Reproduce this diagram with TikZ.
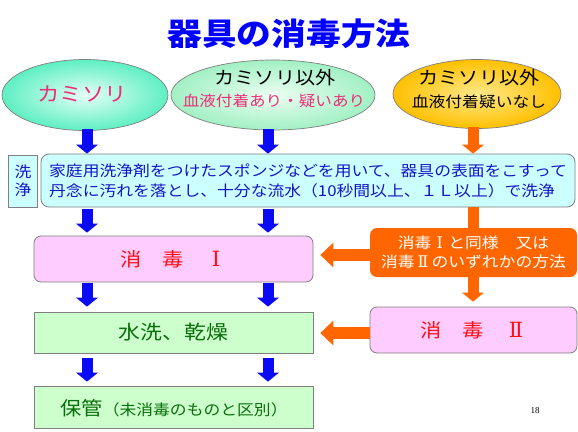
\documentclass[tikz,border=0pt]{standalone}
\usepackage{fontspec}
\setmainfont{Noto Sans CJK JP}[FakeStretch=1.12]
\newfontfamily\pagefont{Liberation Serif}
\newfontfamily\romfont{DejaVu Serif}
\usetikzlibrary{shapes.geometric,arrows.meta}
\definecolor{ttlblue}{HTML}{0000FF}
\definecolor{arrblue}{HTML}{0A0AF5}
\definecolor{arrorange}{HTML}{FF6600}
\definecolor{pinktxt}{HTML}{EE2D78}
\definecolor{washblue}{HTML}{1414C8}
\definecolor{redtxt}{HTML}{FF1010}
\definecolor{dgreen}{HTML}{0A6E0A}
\definecolor{cyanfill}{HTML}{CCFFFF}
\definecolor{pinkfill}{HTML}{FFCCFF}
\definecolor{greenfill}{HTML}{CCFFCC}
\definecolor{edgegray}{HTML}{7F7F7F}
\definecolor{e1out}{HTML}{5EEFC2}
\definecolor{e1in}{HTML}{E4FFF6}
\definecolor{e2out}{HTML}{A2F0C4}
\definecolor{e2in}{HTML}{ECFFF2}
\definecolor{e3out}{HTML}{FFC000}
\definecolor{e3in}{HTML}{FFE98C}
\newcommand\romI[2]{\makebox[#2][c]{\romfont\fontsize{#1}{#1}\selectfont Ⅰ}}
\newcommand\romII[2]{\makebox[#2][c]{\romfont\fontsize{#1}{#1}\selectfont Ⅱ}}
\tikzset{
  ellbase/.style={ellipse, draw=edgegray, line width=0.7pt, inner sep=0pt},
  boxbase/.style={draw=edgegray, line width=0.8pt, inner sep=0pt},
  cyanbox/.style={boxbase, fill=cyanfill},
  pinkbox/.style={boxbase, fill=pinkfill, rounded corners=7pt},
  greenbox/.style={boxbase, fill=greenfill},
  orangebox/.style={fill=arrorange, rounded corners=7pt, inner sep=0pt},
  barrow/.style={draw=arrblue, line width=11pt, -{Triangle[width=22pt,length=9pt,line width=0pt]}},
  oarrow/.style={draw=arrorange, line width=11pt, -{Triangle[width=22pt,length=9pt,line width=0pt]}},
  olarrow/.style={draw=arrorange, line width=12pt, -{Triangle[width=25pt,length=13pt,line width=0pt]}},
  oshaft/.style={draw=arrorange, line width=11pt},
}
\begin{document}
\begin{tikzpicture}[x=1pt,y=-1pt]
\useasboundingbox[fill=white] (0,0) rectangle (578,431);
% title
\node[text=ttlblue, font=\bfseries\fontsize{31}{36}\selectfont] (title) at (289,34) {器具の消毒方法};
% ellipses
\node[ellbase, inner color=e1in, outer color=e1out, minimum width=166pt, minimum height=71pt] (e1) at (85,95) {};
\node[ellbase, inner color=e2in, outer color=e2out, minimum width=204pt, minimum height=70pt] (e2) at (273,95) {};
\node[ellbase, inner color=e3in, outer color=e3out, minimum width=168pt, minimum height=69pt] (e3) at (477,94) {};
\node[text=pinktxt, font=\fontsize{20}{24}\selectfont] (t1) at (82,94) {カミソリ};
\node[text=black, font=\fontsize{18}{22}\selectfont] (t2a) at (275,78) {カミソリ以外};
\node[text=pinktxt, font=\fontsize{14.8}{18}\selectfont] (t2b) at (274,101) {血液付着あり・疑いあり};
\node[text=black, font=\fontsize{18}{22}\selectfont] (t3a) at (479,78) {カミソリ以外};
\node[text=black, font=\fontsize{15}{18}\selectfont] (t3b) at (479,102) {血液付着疑いなし};
% columns
\coordinate (c1) at (87,0);
\coordinate (c2) at (268,0);
\coordinate (c3) at (473,0);
% wash
\node[cyanbox, minimum width=29pt, minimum height=52pt, align=center, text=washblue, font=\fontsize{15}{18}\selectfont] (lbl) at (23,181) {洗\\浄};
\node[cyanbox, rounded corners=8pt, minimum width=534pt, minimum height=53pt, align=left, text=washblue, font=\fontsize{15}{20}\selectfont] (wash) at (308,180.5) {家庭用洗浄剤をつけたスポンジなどを用いて、器具の表面をこすって\\丹念に汚れを落とし、十分な流水（10秒間以上、１Ｌ以上）で洗浄};
% disinfection
\node[pinkbox, minimum width=279pt, minimum height=46pt, text=redtxt, font=\fontsize{19}{22}\selectfont] (s1) at (173.5,259) {消　毒　\romI{21}{21.3pt}};
\node[orangebox, minimum width=207pt, minimum height=49pt, align=center, text=white, font=\fontsize{15}{18.5}\selectfont] (ob) at (473.5,252.5) {消毒\romI{16}{16.8pt}と同様　又は\\消毒\romII{16}{16.8pt}のいずれかの方法};
\node[pinkbox, minimum width=207pt, minimum height=46pt, text=redtxt, font=\fontsize{19}{22}\selectfont] (s2) at (473.5,330) {消　毒　\romII{21}{21.3pt}};
\node[greenbox, minimum width=279pt, minimum height=41pt, text=dgreen, font=\fontsize{19.5}{22}\selectfont] (water) at (173.5,332.5) {水洗、乾燥};
\node[greenbox, minimum width=279pt, minimum height=42pt] (store) at (173.5,407) {};
\node[anchor=west, text=dgreen, inner sep=0pt] (storetxt) at (60,408) {{\fontsize{19}{22}\selectfont 保管}{\fontsize{15}{17}\selectfont （未消毒のものと区別）}};
\node[font=\pagefont\fontsize{9}{10}\selectfont] (pg) at (535,411) {18};
% blue arrows
\draw[barrow, shorten <=-2pt] (c1 |- e1.south) -- (c1 |- wash.north);
\draw[barrow, shorten <=-1pt] (c2 |- e2.south) -- (c2 |- wash.north);
\draw[barrow, shorten <=2pt, shorten >=3pt] (c1 |- wash.south) -- (c1 |- s1.north);
\draw[barrow, shorten <=2pt, shorten >=3pt] (c2 |- wash.south) -- (c2 |- s1.north);
\draw[barrow, shorten <=1pt, shorten >=5pt] (c1 |- s1.south) -- (c1 |- water.north);
\draw[barrow, shorten <=1pt, shorten >=5pt] (c2 |- s1.south) -- (c2 |- water.north);
\draw[barrow, shorten <=5pt, shorten >=4pt] (c1 |- water.south) -- (c1 |- store.north);
\draw[barrow, shorten <=5pt, shorten >=4pt] (c2 |- water.south) -- (c2 |- store.north);
% orange arrows
\draw[oarrow, shorten <=-2pt] (c3 |- e3.south) -- (c3 |- wash.north);
\draw[oshaft] (c3 |- wash.south) -- (c3 |- ob.north);
\draw[oarrow, shorten >=5pt] (c3 |- ob.south) -- (c3 |- s2.north);
\coordinate (r1) at (0,255);
\coordinate (r2) at (0,333);
\draw[olarrow, shorten >=7pt] (r1 -| ob.west) -- (r1 -| s1.east);
\draw[olarrow, shorten >=7pt] (r2 -| s2.west) -- (r2 -| water.east);
\end{tikzpicture}
\end{document}
